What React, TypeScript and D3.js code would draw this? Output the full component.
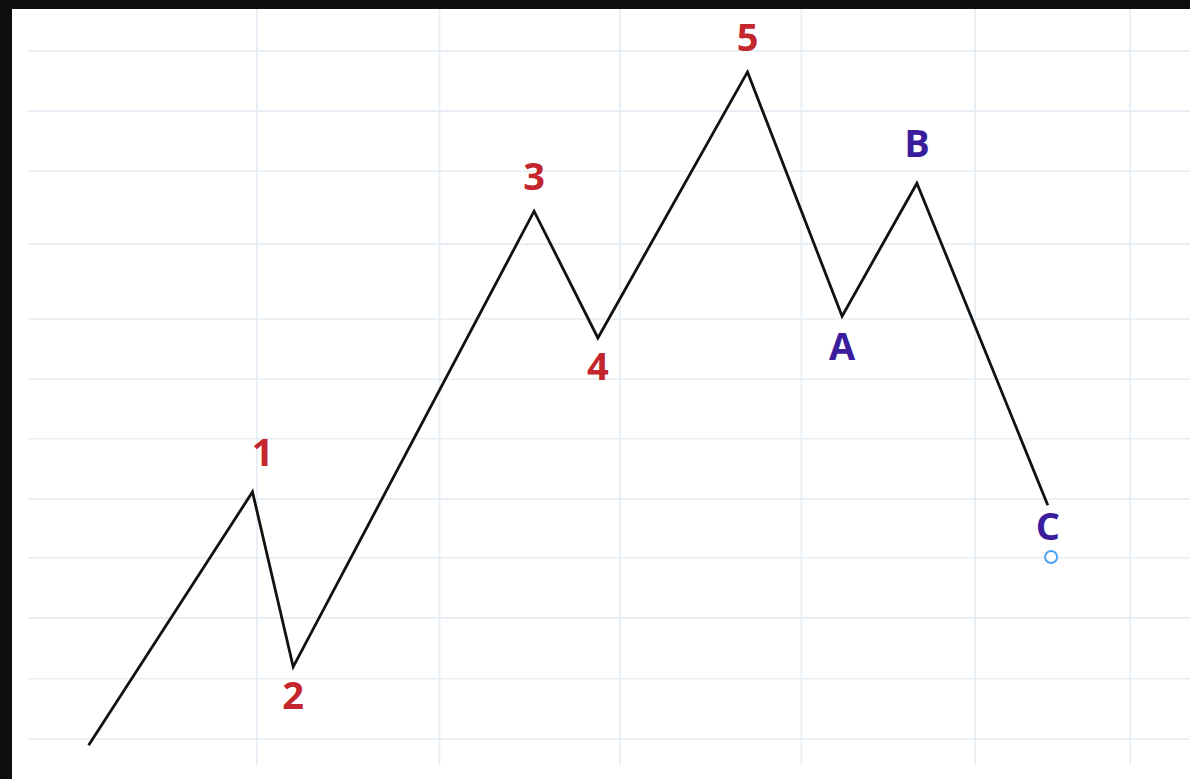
import React from "react";
import * as d3 from "d3";

const W = 1190;
const H = 779;

// Wave points (x in time units, y in price units)
const waveLabels = ["", "1", "2", "3", "4", "5", "A", "B", "C"];
const waveX = [2.6, 17.5, 21.2, 43.1, 48.9, 62.5, 71.1, 77.9, 89.8];
const waveY = [2.1, 38.3, 13.3, 78.4, 60.3, 98.3, 63.4, 82.4, 36.4];
const labelAbove = [false, true, false, true, false, true, false, true, false];
const impulseLabels = ["1", "2", "3", "4", "5"];

// target marker
const targetX = [90.1];
const targetY = [29.0];

// grid lines
const gridY = [101.3, 92.7, 84.1, 73.7, 63.0, 54.4, 45.9, 37.3, 28.9, 20.3, 11.6, 3.0];
const gridX = [17.9, 34.5, 50.9, 67.4, 83.2, 97.3];

export default function App() {
  const x = d3.scaleLinear().domain([0, 100]).range([60, 1160]);
  const y = d3.scaleLinear().domain([0, 100]).range([760, 60]);
  const pts = waveX.map((v, i) => [v, waveY[i]] as [number, number]);
  const line = d3
    .line<[number, number]>()
    .x((d) => x(d[0]))
    .y((d) => y(d[1]));

  const labelPos = (lab: string, i: number) => {
    const px = x(waveX[i]) + (lab === "1" ? 10 : 0);
    let py = labelAbove[i] ? y(waveY[i]) - 21 : y(waveY[i]) + 42;
    if (lab === "1" || lab === "B") py -= 5;
    if (lab === "C") py -= 7;
    if (lab === "A") py += 2;
    return [px, py];
  };

  return (
    <svg
      width={W}
      height={H}
      style={{ position: "absolute", left: 0, top: 0, display: "block" }}
    >
      <rect x={0} y={0} width={W} height={H} fill="#0e0e0e" />
      <rect x={12} y={9} width={W - 12} height={H - 9} fill="#ffffff" />
      {gridY.map((g, i) => (
        <line
          key={"gy" + i}
          x1={28}
          x2={W}
          y1={y(g)}
          y2={y(g)}
          stroke="#e4edf4"
          strokeWidth={1.6}
        />
      ))}
      {gridX.map((g, i) => (
        <line
          key={"gx" + i}
          x1={x(g)}
          x2={x(g)}
          y1={9}
          y2={765}
          stroke="#e4edf4"
          strokeWidth={1.6}
        />
      ))}
      <path
        d={line(pts) || ""}
        fill="none"
        stroke="#111111"
        strokeWidth={2.8}
        strokeLinejoin="miter"
      />
      {waveLabels.map((lab, i) => {
        if (!lab) return null;
        const [px, py] = labelPos(lab, i);
        return (
          <text
            key={"l" + i}
            x={px}
            y={py}
            textAnchor="middle"
            fontFamily="'Open Sans', 'Noto Sans', sans-serif"
            fontWeight={700}
            fontSize={38}
            fill={impulseLabels.includes(lab) ? "#c4262e" : "#3a1d9c"}
          >
            {lab}
          </text>
        );
      })}
      {targetX.map((v, i) => (
        <circle
          key={"t" + i}
          cx={x(v)}
          cy={y(targetY[i])}
          r={6}
          fill="#ffffff"
          stroke="#4aa3ef"
          strokeWidth={2}
        />
      ))}
    </svg>
  );
}
